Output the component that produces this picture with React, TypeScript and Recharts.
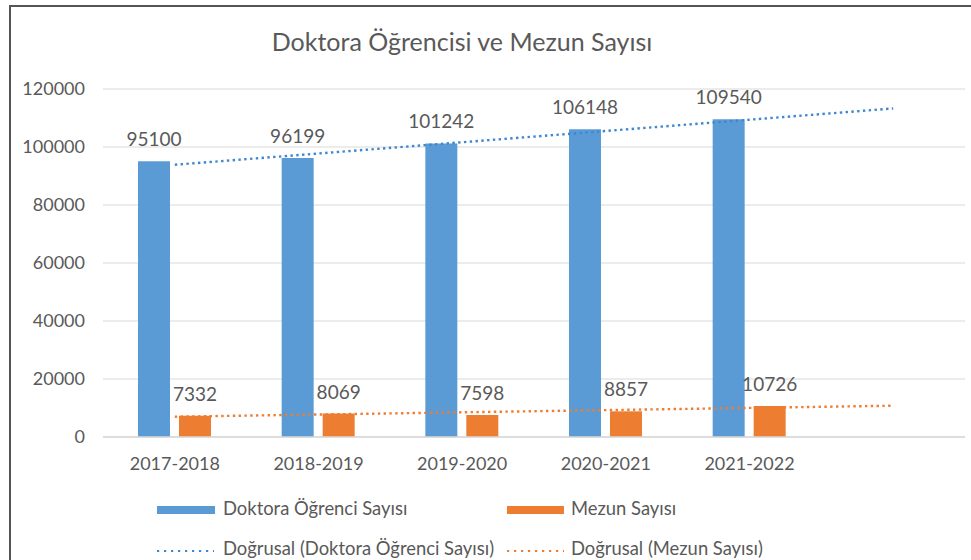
import React from 'react';
import { ComposedChart, Bar, Line, XAxis, YAxis, CartesianGrid, LabelList, Legend } from 'recharts';

const categories = ['2017-2018', '2018-2019', '2019-2020', '2020-2021', '2021-2022', ''];
const doktora = [95100, 96199, 101242, 106148, 109540, null];
const mezun = [7332, 8069, 7598, 8857, 10726, null];
// linear trend endpoints (Excel "Doğrusal" trendline, forecast one period forward)
const doktoraTrend = [93880, null, null, null, null, 113295];
const mezunTrend = [7001, null, null, null, null, 10789];
const yTicks = [0, 20000, 40000, 60000, 80000, 100000, 120000];

const title = 'Doktora Öğrencisi ve Mezun Sayısı';
const seriesNames = ['Doktora Öğrenci Sayısı', 'Mezun Sayısı', 'Doğrusal (Doktora Öğrenci Sayısı)', 'Doğrusal (Mezun Sayısı)'];

const data = categories.map((name, i) => ({
  name,
  doktora: doktora[i],
  mezun: mezun[i],
  doktoraTrend: doktoraTrend[i],
  mezunTrend: mezunTrend[i],
}));

const BLUE = '#5B9BD5';
const ORANGE = '#ED7D31';
const BLUE_T = '#3E87D0';
const TEXT = '#595959';
const FONT = 'Lato, "Open Sans", sans-serif';

const fmt = (v: any) => (v == null ? '' : String(v));

const LegendContent = () => (
  <svg width={971} height={70} style={{ display: 'block' }}>
    <rect x={157} y={16} width={58} height={8} fill={BLUE} />
    <text x={223} y={25} fontSize={18.4} fill={TEXT} fontFamily={FONT}>{seriesNames[0]}</text>
    <rect x={507} y={16} width={57} height={8} fill={ORANGE} />
    <text x={571} y={25} fontSize={18.4} fill={TEXT} fontFamily={FONT}>{seriesNames[1]}</text>
    <line x1={157} x2={214} y1={61} y2={61} stroke={BLUE_T} strokeWidth={2.2} strokeDasharray="2.2 4.8" />
    <text x={223} y={65} fontSize={18.4} fill={TEXT} fontFamily={FONT}>{seriesNames[2]}</text>
    <line x1={507} x2={564} y1={61} y2={61} stroke={ORANGE} strokeWidth={2.2} strokeDasharray="2.2 4.8" />
    <text x={571} y={65} fontSize={18.4} fill={TEXT} fontFamily={FONT}>{seriesNames[3]}</text>
  </svg>
);

export default function App() {
  return (
    <div style={{ position: 'absolute', left: 0, top: 0, width: 971, height: 560, background: '#fff', overflow: 'hidden', fontFamily: FONT }}>
      <div style={{ position: 'absolute', left: 9, top: 5, width: 980, height: 600, borderLeft: '2px solid #555', borderTop: '2px solid #555' }} />
      <svg width={971} height={80} style={{ position: 'absolute', left: 0, top: 0 }}>
        <text x={462} y={51} textAnchor="middle" fontSize={25} fill={TEXT} fontFamily={FONT}>{title}</text>
      </svg>
      <div style={{ position: 'absolute', left: 0, top: 0 }}>
        <ComposedChart width={971} height={560} data={data} margin={{ top: 89, right: 6, left: 0, bottom: 93 }} barGap={9}>
          <CartesianGrid vertical={false} stroke="#D9D9D9" strokeWidth={1.2} />
          <XAxis dataKey="name" height={30} tickSize={0} tickMargin={20} axisLine={{ stroke: '#D9D9D9', strokeWidth: 1.5 }} tickLine={false}
            tick={{ fill: TEXT, fontSize: 18, fontFamily: FONT }} interval={0} />
          <YAxis width={103} domain={[0, 120000]} ticks={yTicks} tickSize={0} tickMargin={18} axisLine={false} tickLine={false}
            tick={{ fill: TEXT, fontSize: 18, fontFamily: FONT }} />
          <Bar dataKey="doktora" name={seriesNames[0]} fill={BLUE} barSize={32} isAnimationActive={false}>
            <LabelList dataKey="doktora" position="top" offset={15} formatter={fmt} fill={TEXT} fontSize={19} fontFamily={FONT} />
          </Bar>
          <Bar dataKey="mezun" name={seriesNames[1]} fill={ORANGE} barSize={32} isAnimationActive={false}>
            <LabelList dataKey="mezun" position="top" offset={15} formatter={fmt} fill={TEXT} fontSize={19} fontFamily={FONT} />
          </Bar>
          <Line dataKey="doktoraTrend" name={seriesNames[2]} stroke={BLUE_T} strokeWidth={2.4} strokeDasharray="2.4 3.4" dot={false} activeDot={false} connectNulls isAnimationActive={false} />
          <Line dataKey="mezunTrend" name={seriesNames[3]} stroke={ORANGE} strokeWidth={2.4} strokeDasharray="2.4 3.4" dot={false} activeDot={false} connectNulls isAnimationActive={false} />
          <Legend layout="horizontal" verticalAlign="middle" align="center" content={<LegendContent />}
            wrapperStyle={{ position: 'absolute', left: 0, top: 490, width: 971, height: 70 }} />
        </ComposedChart>
      </div>
    </div>
  );
}
